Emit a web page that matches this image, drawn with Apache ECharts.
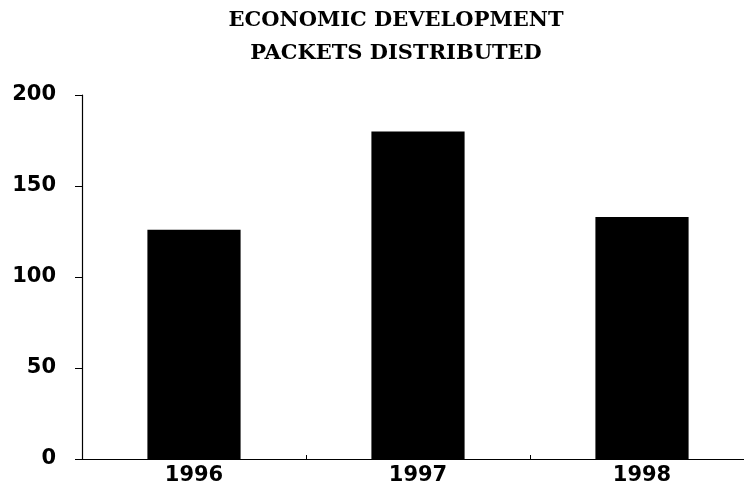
<!DOCTYPE html>
<html>
<head>
<meta charset="utf-8">
<script src="https://cdn.jsdelivr.net/npm/echarts@6/dist/echarts.min.js"></script>
<style>
  html, body { margin: 0; padding: 0; background: #fff; }
  #chart { width: 744px; height: 494px; }
</style>
</head>
<body>
<div id="chart"></div>
<script>
// Packets distributed per year
const years = ['1996', '1997', '1998'];
const packets = [126, 180, 133];
const yTicks = [0, 50, 100, 150, 200];
const titleLines = ['ECONOMIC DEVELOPMENT', 'PACKETS DISTRIBUTED'];

const chart = echarts.init(document.getElementById('chart'), null, { renderer: 'canvas' });

chart.setOption({
  backgroundColor: '#ffffff',
  animation: false,
  title: {
    text: titleLines.join('\n'),
    left: 391,
    textAlign: 'center',
    top: -1,
    textStyle: {
      fontFamily: 'DejaVu Serif',
      fontWeight: 'bold',
      fontSize: 21,
      lineHeight: 33,
      color: '#000'
    }
  },
  grid: {
    left: 82,
    right: -10,
    top: 95,
    bottom: 35,
    containLabel: false,
    outerBoundsMode: 'none'
  },
  xAxis: {
    type: 'category',
    data: years,
    boundaryGap: true,
    axisLine: { show: true, lineStyle: { color: '#000', width: 1.2 } },
    axisTick: { show: true, alignWithLabel: false, length: 4, inside: true, lineStyle: { color: '#000' } },
    axisLabel: {
      margin: 6,
      fontFamily: 'DejaVu Sans',
      fontWeight: 'bold',
      fontSize: 21,
      color: '#000'
    },
    splitLine: { show: false }
  },
  yAxis: {
    type: 'value',
    min: yTicks[0],
    max: yTicks[yTicks.length - 1],
    interval: yTicks[1] - yTicks[0],
    axisLine: { show: true, lineStyle: { color: '#000', width: 1.2 } },
    axisTick: { show: true, length: 7, lineStyle: { color: '#000' } },
    axisLabel: {
      margin: 26,
      fontFamily: 'DejaVu Sans',
      fontWeight: 'bold',
      fontSize: 21,
      color: '#000'
    },
    splitLine: { show: false }
  },
  series: [{
    type: 'bar',
    data: packets,
    barWidth: '41.6%',
    itemStyle: { color: '#000' }
  }]
});
</script>
</body>
</html>
